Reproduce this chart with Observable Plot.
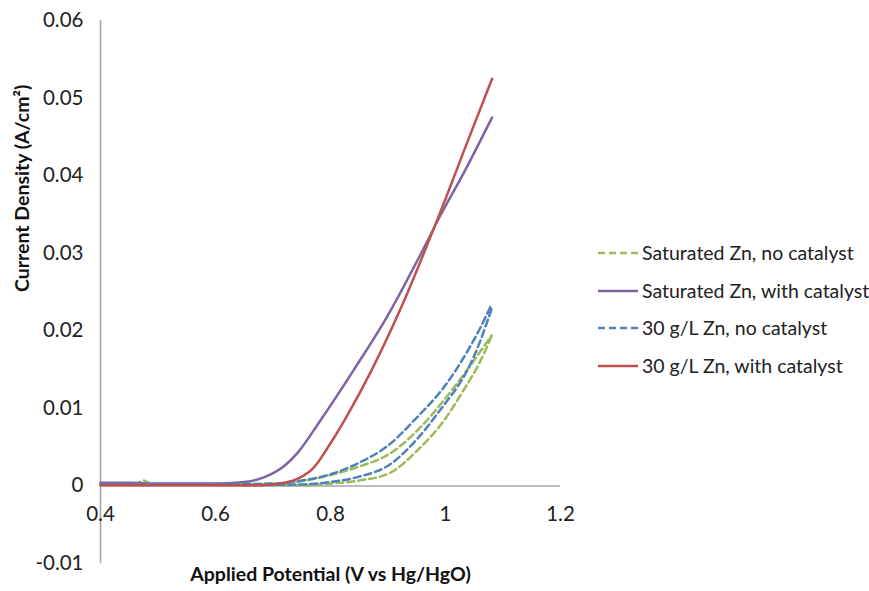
<!DOCTYPE html>
<html>
<head>
<meta charset="utf-8">
<script src="https://cdn.jsdelivr.net/npm/d3@7"></script>
<script src="https://cdn.jsdelivr.net/npm/@observablehq/plot@0.6"></script>
<style>
  html, body { margin: 0; padding: 0; background: #fff; }
  #wrap { position: relative; width: 869px; height: 591px; font-family: Lato, "Open Sans", sans-serif; }
  .leg { position: absolute; left: 598px; display: flex; align-items: center; font-size: 19.5px; line-height: 24px; color: #222; white-space: nowrap; }
  .leg svg { margin-right: 4px; }
</style>
</head>
<body>
<div id="wrap"></div>
<script>
// ---- data ----
const xTicks = [0.4, 0.6, 0.8, 1, 1.2];
const xTickLabels = ["0.4", "0.6", "0.8", "1", "1.2"];
const yTicks = [-0.01, 0, 0.01, 0.02, 0.03, 0.04, 0.05, 0.06];
const yTickLabels = ["-0.01", "0", "0.01", "0.02", "0.03", "0.04", "0.05", "0.06"];

const seriesNames = [
  "Saturated Zn, no catalyst",
  "Saturated Zn, with catalyst",
  "30 g/L Zn, no catalyst",
  "30 g/L Zn, with catalyst"
];
const seriesColors = ["#9BBB59", "#8064A2", "#4F81BD", "#C0504D"];
const seriesDashed = [true, false, true, false];

// Saturated Zn, no catalyst (two sweep branches)
const satNoCatA = [[0.40,0.0002],[0.45,0.0002],[0.465,0.0004],[0.475,0.0007],[0.487,0.0003],[0.50,0.0002],[0.60,0.0002],[0.70,0.0003],[0.75,0.0006],[0.80,0.0014],[0.85,0.0025],[0.904,0.0042],[0.957,0.0076],[1.0,0.0113],[1.04,0.0152],[1.08,0.0194]];
const satNoCatB = [[0.60,0.0001],[0.70,0.0001],[0.75,0.0001],[0.80,0.0003],[0.85,0.0007],[0.904,0.0017],[0.95,0.0045],[1.0,0.0087],[1.031,0.0123],[1.06,0.0160],[1.08,0.0193]];
// Saturated Zn, with catalyst
const satCat = [[0.40,0.0004],[0.45,0.0004],[0.50,0.0003],[0.55,0.0003],[0.60,0.0003],[0.65,0.0005],[0.684,0.0011],[0.72,0.0026],[0.742,0.0042],[0.783,0.0085],[0.84,0.0149],[0.899,0.0219],[0.957,0.0299],[0.99,0.0347],[1.032,0.0404],[1.081,0.0475]];
// 30 g/L Zn, no catalyst (two sweep branches)
const zn30NoCatA = [[0.40,0.0002],[0.50,0.0002],[0.60,0.0002],[0.70,0.0003],[0.75,0.0007],[0.80,0.0015],[0.85,0.0030],[0.90,0.0052],[0.95,0.0088],[1.0,0.0130],[1.04,0.0176],[1.06,0.0203],[1.08,0.0234]];
const zn30NoCatB = [[0.65,0.0001],[0.75,0.0002],[0.80,0.0005],[0.85,0.0012],[0.904,0.0028],[0.95,0.0060],[1.0,0.0107],[1.02,0.0127],[1.04,0.0152],[1.06,0.0186],[1.08,0.0228]];
// 30 g/L Zn, with catalyst
const zn30Cat = [[0.40,0.0001],[0.50,0.0001],[0.60,0.0001],[0.68,0.0001],[0.70,0.0002],[0.72,0.0004],[0.745,0.0010],[0.77,0.0023],[0.80,0.0055],[0.83,0.0092],[0.87,0.0147],[0.927,0.0237],[0.97,0.0314],[1.0,0.0370],[1.03,0.0428],[1.081,0.0525]];

// ---- build table ----
const branches = [
  {s: 0, id: "a0", pts: satNoCatA},
  {s: 0, id: "b0", pts: satNoCatB},
  {s: 1, id: "a1", pts: satCat},
  {s: 2, id: "a2", pts: zn30NoCatA},
  {s: 2, id: "b2", pts: zn30NoCatB},
  {s: 3, id: "a3", pts: zn30Cat}
];
const rows = branches.flatMap(b => b.pts.map(([x, y]) => ({x, y, id: b.id, s: b.s})));

const font = "Lato, 'Open Sans', sans-serif";
const marks = [
  Plot.ruleY([0], {x1: 0.4, x2: 1.2, stroke: "#a6a6a6", strokeWidth: 1.6}),
  Plot.ruleX([0.4], {y1: -0.01, y2: 0.06, stroke: "#a6a6a6", strokeWidth: 1.6}),
  Plot.axisY({ticks: yTicks, tickSize: 0, tickPadding: 17, fontSize: 20.5, label: null,
    tickFormat: d => yTickLabels[yTicks.findIndex(t => Math.abs(t - d) < 1e-9)]}),
  Plot.text(xTicks, {x: d => d, y: 0, dy: 29, text: (d, i) => xTickLabels[i], fontSize: 20.5, fill: "#222"}),
  Plot.text(["Current Density (A/cm²)"], {frameAnchor: "left", dx: -78, rotate: -90, fontSize: 19.5, fontWeight: "bold", fill: "#111"}),
  Plot.text(["Applied Potential (V vs Hg/HgO)"], {frameAnchor: "bottom", dy: 17, fontSize: 19.5, fontWeight: "bold", fill: "#111"})
];
for (let s = 0; s < 4; s++) {
  marks.push(Plot.line(rows.filter(r => r.s === s), {
    x: "x", y: "y", z: "id", curve: "monotone-x",
    stroke: seriesColors[s], strokeWidth: 2.5,
    strokeDasharray: seriesDashed[s] ? "7,4" : null
  }));
}

const chart = Plot.plot({
  width: 869, height: 591,
  marginLeft: 100, marginRight: 309, marginTop: 20, marginBottom: 28,
  x: {domain: [0.4, 1.2], axis: null},
  y: {domain: [-0.01, 0.06]},
  style: {fontFamily: font, color: "#222", background: "#fff", overflow: "visible"},
  marks
});
const wrap = document.getElementById("wrap");
wrap.appendChild(chart);

// ---- legend ----
const legTops = [253, 291, 328, 366];
seriesNames.forEach((name, i) => {
  const row = document.createElement("div");
  row.className = "leg";
  row.style.top = (legTops[i] - 12) + "px";
  row.innerHTML = `<svg width="40" height="10"><line x1="0" y1="5" x2="40" y2="5" stroke="${seriesColors[i]}" stroke-width="2.5" ${seriesDashed[i] ? 'stroke-dasharray="7,4"' : ''}/></svg><span>${name}</span>`;
  wrap.appendChild(row);
});
</script>
</body>
</html>
